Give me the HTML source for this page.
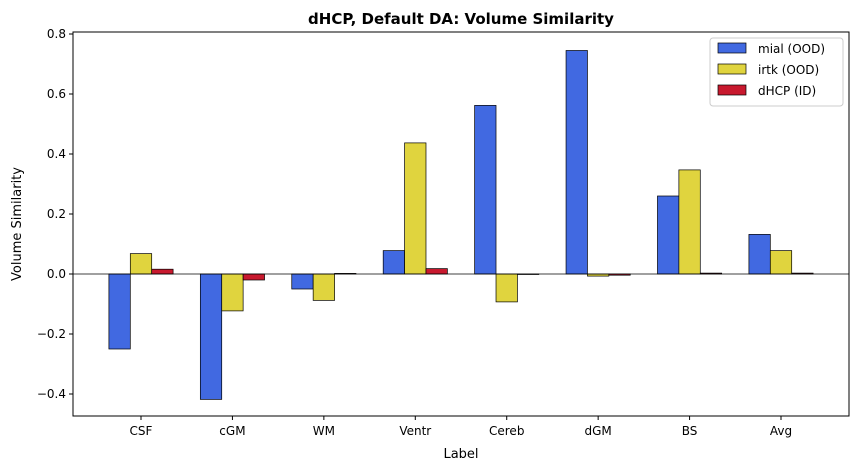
<!DOCTYPE html>
<html><head><meta charset="utf-8"><style>
body{margin:0;background:#fff;font-family:"Liberation Sans","DejaVu Sans",sans-serif;}
svg text{font-family:"DejaVu Sans","Liberation Sans",sans-serif;}
</style></head><body>
<svg id="chart" width="857" height="470"></svg>
<script>
const categories=["CSF","cGM","WM","Ventr","Cereb","dGM","BS","Avg"];
const mialValues=[-0.25,-0.418,-0.05,0.078,0.562,0.745,0.26,0.132];
const irtkValues=[0.068,-0.123,-0.088,0.437,-0.093,-0.007,0.347,0.078];
const dhcpValues=[0.016,-0.02,0.002,0.018,-0.001,-0.004,0.003,0.003];
const yTicks=[-0.4,-0.2,0.0,0.2,0.4,0.6,0.8];
const seriesNames=["mial (OOD)","irtk (OOD)","dHCP (ID)"];
const seriesColors=["#4169e1","#e0d43e","#c8192e"];

const NS="http://www.w3.org/2000/svg";
const svg=document.getElementById('chart');
const L=73,R=849,T=32,B=416;
const y=v=>274-300*v;
const x=i=>141+i*91.43;
const bw=21.4;
function el(tag,attrs,parent){const e=document.createElementNS(NS,tag);for(const k in attrs)e.setAttribute(k,attrs[k]);(parent||svg).appendChild(e);return e;}

const title=el('text',{x:461,y:24,'text-anchor':'middle','font-size':15,'font-weight':'bold'});
title.textContent="dHCP, Default DA: Volume Similarity";



const all=[mialValues,irtkValues,dhcpValues];
all.forEach((vals,s)=>{
  vals.forEach((v,i)=>{
    const cx=x(i)+(s-1)*bw;
    const r=el('rect',{x:cx-bw/2,y:Math.min(y(v),y(0)),width:bw,height:Math.max(Math.abs(y(v)-y(0)),0.5),fill:seriesColors[s],stroke:'#000','stroke-width':0.7});
    
    
  });
});
const zl=el('line',{x1:L,x2:R,y1:y(0),y2:y(0),stroke:'#000','stroke-width':0.8});



const frame=el('rect',{x:L,y:T,width:R-L,height:B-T,fill:'none',stroke:'#000','stroke-width':1});



yTicks.forEach(t=>{
  el('line',{x1:L-4,x2:L,y1:y(t),y2:y(t),stroke:'#000'});
  const tx=el('text',{x:L-7,y:y(t)+4,'text-anchor':'end','font-size':12});
  tx.textContent=(t<0?'\u2212':'')+Math.abs(t).toFixed(1);
  
  
});
categories.forEach((c,i)=>{
  el('line',{x1:x(i),x2:x(i),y1:B,y2:B+4,stroke:'#000'});
  const tx=el('text',{x:x(i),y:B+19,'text-anchor':'middle','font-size':12});
  tx.textContent=c;
  
  
});
const xt=el('text',{x:461,y:458,'text-anchor':'middle','font-size':13});
xt.textContent="Label";


const yt=el('text',{x:21,y:224,'text-anchor':'middle','font-size':13,transform:'rotate(-90 21 224)'});
yt.textContent="Volume Similarity";



const lg=el('g',{});


el('rect',{x:710,y:38,width:133,height:68,fill:'#fff',stroke:'#ccc',rx:3},lg);
seriesNames.forEach((n,s)=>{
  const yy=43+s*21;
  el('rect',{x:718,y:yy,width:28,height:10,fill:seriesColors[s],stroke:'#000','stroke-width':0.7},lg);
  const t=el('text',{x:758,y:yy+10,'font-size':12},lg);
  t.textContent=n;
  
  
});
</script>
</body></html>
